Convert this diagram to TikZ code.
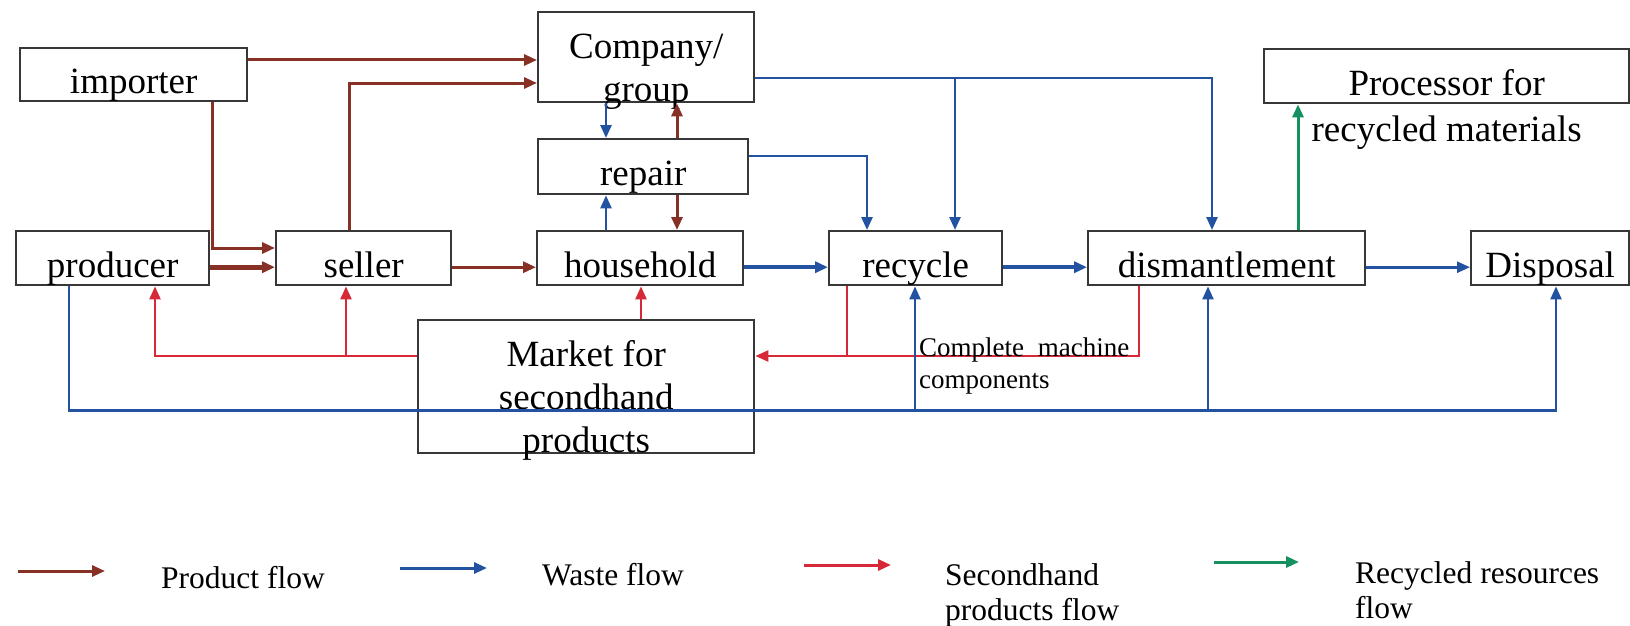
\documentclass[tikz,border=0pt]{standalone}
\usepackage{fontspec}
\setmainfont{Liberation Serif}
\usetikzlibrary{arrows.meta,calc}
\definecolor{prodc}{RGB}{135,48,38}
\definecolor{wastec}{RGB}{35,82,160}
\definecolor{secc}{RGB}{215,40,55}
\definecolor{recyc}{RGB}{20,145,95}
\definecolor{boxc}{RGB}{55,55,55}
\tikzset{
  box/.style={draw=boxc, line width=2.4pt, inner sep=0pt, anchor=north west,
    font=\fontsize{37}{40}\selectfont},
  arrowhd/.style={-{Triangle[length=13pt,width=11pt]}},
  prod/.style={draw=prodc, line width=3pt, arrowhd},
  waste/.style={draw=wastec, line width=2.6pt, arrowhd},
  sec/.style={draw=secc, line width=2.4pt, arrowhd},
  secl/.style={draw=secc, line width=2.4pt},
  recy/.style={draw=recyc, line width=3pt, arrowhd},
  legtext/.style={inner sep=0pt, anchor=base west, font=\fontsize{31.5}{35}\selectfont},
}
\begin{document}
\begin{tikzpicture}[x=1pt,y=-1pt]
\fill[white] (0,0) rectangle (1630,626);
\useasboundingbox (0,0) rectangle (1630,626);

% boxes
\node[box, minimum width=227pt, minimum height=53pt, text height=45pt, text depth=8pt] (importer) at (19,47) {importer};
\node[box, minimum width=216pt, minimum height=90pt, text height=46pt, text depth=44pt] (company) at (537,11)
  {\parbox[t]{210pt}{\centering\fontsize{37}{43}\selectfont Company/\\group}};
\node[box, minimum width=365pt, minimum height=54pt, text height=46pt, text depth=8pt] (processor) at (1263,48)
  {\parbox[t]{360pt}{\centering\fontsize{37}{46}\selectfont Processor for\\recycled materials}};
\node[box, minimum width=210pt, minimum height=55pt, text height=46pt, text depth=9pt] (repair) at (537,138) {repair};
\node[box, minimum width=193pt, minimum height=54pt, text height=46pt, text depth=8pt] (producer) at (15,230) {producer};
\node[box, minimum width=175pt, minimum height=54pt, text height=46pt, text depth=8pt] (seller) at (275,230) {seller};
\node[box, minimum width=206pt, minimum height=54pt, text height=46pt, text depth=8pt] (household) at (536,230) {household};
\node[box, minimum width=173pt, minimum height=54pt, text height=46pt, text depth=8pt] (recycle) at (828,230) {recycle};
\node[box, minimum width=277pt, minimum height=54pt, text height=46pt, text depth=8pt] (dismantle) at (1087,230) {dismantlement};
\node[box, minimum width=158pt, minimum height=54pt, text height=46pt, text depth=8pt] (disposal) at (1470,230) {Disposal};
\node[box, minimum width=336pt, minimum height=133pt, text height=46pt, text depth=87pt] (market) at (417,319)
  {\parbox[t]{330pt}{\centering\fontsize{37}{43}\selectfont Market for\\secondhand\\products}};

% product flow
\coordinate (i1) at ([yshift=-13pt]importer.north east);
\draw[prod] (i1) -- (i1 -| company.west);
\draw[prod] ([xshift=74pt]seller.north west) |- ([yshift=-72pt]company.north west);
\draw[prod] ([xshift=-36pt]importer.south east) |- ([yshift=-18pt]seller.north west);
\draw[prod, line width=5pt] ([yshift=-9pt]producer.east) -- ([yshift=-9pt]seller.west);
\draw[prod] ([yshift=-9pt]seller.east) -- ([yshift=-9pt]household.west);

% waste flow
\draw[waste, line width=4pt] ([yshift=-9pt]household.east) -- ([yshift=-9pt]recycle.west);
\draw[waste, line width=4pt] ([yshift=-9pt]recycle.east) -- ([yshift=-9pt]dismantle.west);
\draw[waste] ([yshift=-9pt]dismantle.east) -- ([yshift=-9pt]disposal.west);
\coordinate (c1) at ([yshift=-67pt]company.north east);
\draw[waste] (c1) -| ([xshift=125pt]dismantle.north west);
\coordinate (r1) at ([xshift=127pt]recycle.north west);
\draw[waste] (r1 |- c1) -- (r1);
\draw[waste] ([yshift=-18pt]repair.north east) -| ([xshift=39pt]recycle.north west);

% company / repair / household
\coordinate (ca) at ([xshift=69pt]company.south west);
\coordinate (cb) at ([xshift=140pt]company.south west);
\draw[waste] (ca) -- (ca |- repair.north);
\draw[prod] (cb |- repair.north) -- (cb);
\draw[waste] (ca |- household.north) -- (ca |- repair.south);
\draw[prod] (cb |- repair.south) -- (cb |- household.north);

% recycled resources
\coordinate (g1) at ([xshift=211pt]dismantle.north west);
\draw[recy] (g1) -- (g1 |- processor.south);

% secondhand flow
\coordinate (m1) at ([yshift=-37pt]market.north west);
\draw[sec] (m1) -| ([xshift=140pt]producer.south west);
\coordinate (s2) at ([xshift=71pt]seller.south west);
\draw[sec] (s2 |- m1) -- (s2);
\coordinate (m2) at ([xshift=224pt]market.north west);
\draw[sec] (m2) -- (m2 |- household.south);
\coordinate (d1) at ([xshift=52pt]dismantle.south west);
\coordinate (m3) at ([yshift=-37pt]market.north east);
\draw[sec] (d1) |- (m3);
\coordinate (r2) at ([xshift=19pt]recycle.south west);
\draw[secl] (r2) -- (r2 |- m3);

% bottom waste line
\coordinate (p1) at ([xshift=54pt]producer.south west);
\coordinate (b1) at ([yshift=44pt]market.south);
\coordinate (q1) at ([xshift=86pt]disposal.south west);
\draw[waste, line width=2.2pt] (p1) |- (b1) -| (q1);
\coordinate (r3) at ([xshift=87pt]recycle.south west);
\draw[waste, line width=2.2pt] (r3 |- b1) -- (r3);
\coordinate (d2) at ([xshift=121pt]dismantle.south west);
\draw[waste, line width=2.2pt] (d2 |- b1) -- (d2);

% label
\node[inner sep=0pt, anchor=base west, font=\fontsize{27}{32}\selectfont] (cm) at (919,356)
  {\parbox[t]{210pt}{\makebox[210pt][s]{Complete machine}\\components}};

% legend
\coordinate (lp1) at (18,571); \coordinate (lp2) at (105,571);
\draw[prod] (lp1) -- (lp2);
\node[legtext] (lpt) at (161,588) {Product flow};
\coordinate (lw1) at (400,568); \coordinate (lw2) at (487,568);
\draw[waste, line width=3pt] (lw1) -- (lw2);
\node[legtext] (lwt) at (542,585) {Waste flow};
\coordinate (ls1) at (804,565); \coordinate (ls2) at (891,565);
\draw[sec, line width=3pt] (ls1) -- (ls2);
\node[legtext] (lst) at (945,585) {\parbox[t]{200pt}{Secondhand\\products flow}};
\coordinate (lr1) at (1214,562); \coordinate (lr2) at (1299,562);
\draw[recy] (lr1) -- (lr2);
\node[legtext] (lrt) at (1355,583) {\parbox[t]{270pt}{Recycled resources\\flow}};
\end{tikzpicture}
\end{document}
